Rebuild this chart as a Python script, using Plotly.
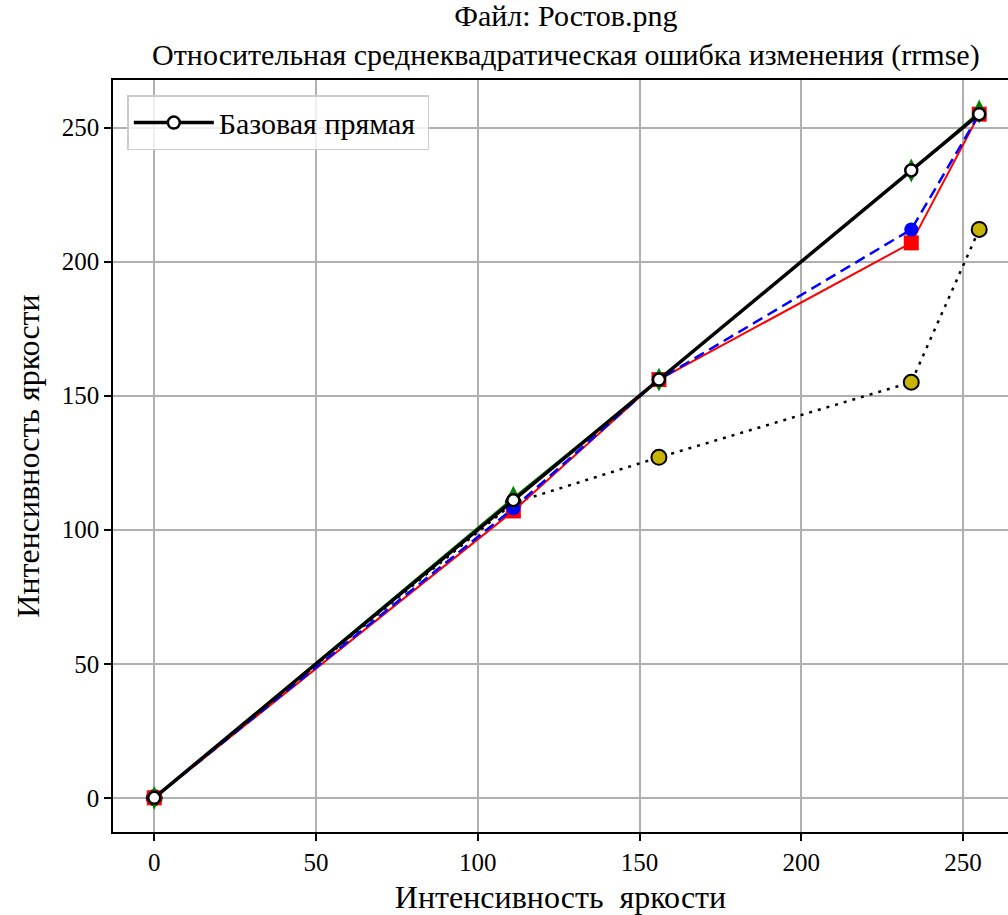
import plotly.graph_objects as go

x_vals = [0, 111, 156, 234, 255]
base_y = [0, 111, 156, 234, 255]
red_y = [0, 107, 156, 207, 255]
blue_y = [0, 108, 156, 212, 255]
green_y = [0, 112, 156, 234, 256]
olive_y = [0, 110, 127, 155, 212]

FONT = "'Liberation Serif', 'Times New Roman', Times, 'DejaVu Serif', serif"

fig = go.Figure()
fig.add_trace(go.Scatter(x=x_vals, y=olive_y, mode="lines+markers", showlegend=False,
                         line=dict(color="black", width=2.5, dash="3px,6px"),
                         marker=dict(symbol="circle", size=15, color="#c8b400",
                                     line=dict(color="black", width=2))))
fig.add_trace(go.Scatter(x=x_vals, y=red_y, mode="lines+markers", showlegend=False,
                         line=dict(color="red", width=2),
                         marker=dict(symbol="square", size=15, color="red")))
fig.add_trace(go.Scatter(x=x_vals, y=blue_y, mode="lines+markers", showlegend=False,
                         line=dict(color="blue", width=2.5, dash="11px,6px"),
                         marker=dict(symbol="circle", size=14, color="blue")))
fig.add_trace(go.Scatter(x=x_vals, y=green_y, mode="lines+markers", showlegend=False,
                         line=dict(color="green", width=1.5),
                         marker=dict(symbol="diamond-tall", size=17, color="green")))
fig.add_trace(go.Scatter(x=x_vals, y=base_y, mode="lines+markers", name="Базовая прямая ",
                         line=dict(color="black", width=3.5),
                         marker=dict(symbol="circle", size=12, color="white",
                                     line=dict(color="black", width=2.5))))

axis_common = dict(
    showgrid=True, gridcolor="#b0b0b0", gridwidth=1.5,
    zeroline=False, showline=True, linecolor="black", linewidth=1.5,
    ticks="outside", ticklen=7, tickwidth=1.5, tickcolor="black",
    tickfont=dict(family=FONT, size=25, color="black"),
    tickvals=[0, 50, 100, 150, 200, 250],
    automargin=False,
)

fig.update_layout(
    width=1008, height=915,
    margin=dict(l=113, r=0, t=80, b=83),
    paper_bgcolor="white", plot_bgcolor="white",
    font=dict(family=FONT, color="black"),
    title=dict(text="Файл: Ростов.png<br>Относительная среднеквадратическая ошибка изменения (rrmse)",
               x=0.506, xref="paper", xanchor="center", y=0.972, yref="container", yanchor="top",
               font=dict(family=FONT, size=30, color="black")),
    xaxis=dict(axis_common, range=[-12.75, 263.9], mirror=True,
               title=dict(text="Интенсивность  яркости", font=dict(family=FONT, size=32), standoff=15)),
    yaxis=dict(axis_common, range=[-12.75, 267.75],
               title=dict(text="Интенсивность яркости", font=dict(family=FONT, size=32), standoff=13)),
    legend=dict(x=0.016, y=0.98, xanchor="left", yanchor="top", itemwidth=80,
                bgcolor="rgba(255,255,255,0.8)", bordercolor="#cccccc", borderwidth=1.5,
                font=dict(family=FONT, size=30, color="black")),
)

fig.write_html("out.html", config={"displayModeBar": False},
               post_script="document.body.style.margin='0';document.body.style.overflow='hidden';")
